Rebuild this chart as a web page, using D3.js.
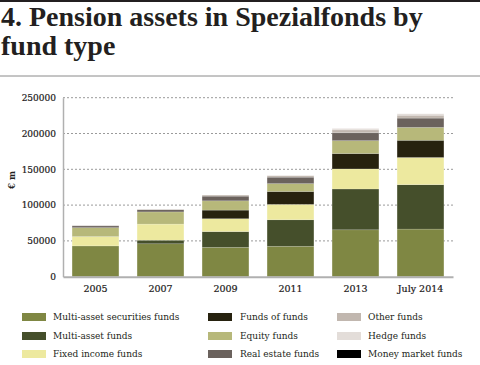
<!DOCTYPE html>
<html>
<head>
<meta charset="utf-8">
<script src="https://cdn.jsdelivr.net/npm/d3@7"></script>
<style>
  body { margin: 0; background: #fff; }
  svg { display: block; }
</style>
</head>
<body>
<div id="scene"></div>
<script>
// chart data (EUR m)
var years = ["2005", "2007", "2009", "2011", "2013", "July 2014"];
var fundTypes = ["Multi-asset securities funds", "Multi-asset funds", "Fixed income funds",
  "Funds of funds", "Equity funds", "Real estate funds",
  "Other funds", "Hedge funds", "Money market funds"];
var multiAssetSecurities = [43000, 46000, 41000, 42500, 65500, 66500];
var multiAsset = [0, 5000, 22000, 37000, 57000, 62000];
var fixedIncome = [13000, 22500, 18000, 21500, 28000, 38000];
var fundsOfFunds = [0, 0, 12000, 18000, 21500, 24000];
var equity = [12500, 17000, 13000, 11000, 18000, 18000];
var realEstate = [2500, 3000, 6500, 9000, 11000, 13000];
var otherFunds = [500, 500, 1500, 2000, 4000, 4000];
var hedgeFunds = [0, 0, 0, 500, 2000, 2000];
var moneyMarket = [0, 0, 0, 0, 0, 0];
var yTicks = [0, 50000, 100000, 150000, 200000, 250000];

var colors = ["#7f8743", "#454f2b", "#ede99f", "#27220f", "#b7b87a",
  "#6b625d", "#c1b7af", "#e3ddd9", "#000000"];

var series = [multiAssetSecurities, multiAsset, fixedIncome, fundsOfFunds,
  equity, realEstate, otherFunds, hedgeFunds, moneyMarket];

var ctx = {
  w: 480,
  h: 365,
  left: 63,
  right: 453,
  top: 97.7,
  bottom: 276.7
};

var rows = years.map(function (y, i) {
  var r = { year: y };
  fundTypes.forEach(function (f, k) { r[f] = series[k][i]; });
  return r;
});

var svg = d3.select("#scene").append("svg")
  .attr("width", ctx.w)
  .attr("height", ctx.h);

// title and rules
svg.append("line")
  .attr("x1", 0).attr("x2", ctx.w).attr("y1", 1).attr("y2", 1)
  .attr("stroke", "#231f20").attr("stroke-width", 2);

var title = svg.append("text")
  .attr("font-family", "Liberation Serif")
  .attr("font-weight", "bold")
  .attr("font-size", 28)
  .attr("fill", "#231f20");
title.append("tspan").attr("x", 1).attr("y", 26).text("4. Pension assets in Spezialfonds by");
title.append("tspan").attr("x", 1).attr("y", 55).text("fund type");

svg.append("line")
  .attr("x1", 0).attr("x2", ctx.w).attr("y1", 76).attr("y2", 76)
  .attr("stroke", "#8a8a8a").attr("stroke-width", 1);

// scales
var x = d3.scaleBand()
  .domain(years)
  .range([ctx.left, ctx.right])
  .paddingInner(0.28)
  .paddingOuter(0.14);

var y = d3.scaleLinear()
  .domain([0, 250000])
  .range([ctx.bottom, ctx.top]);

// gridlines
svg.append("g")
  .selectAll("line")
  .data(yTicks.slice(1))
  .enter()
  .append("line")
  .attr("x1", ctx.left)
  .attr("x2", ctx.right)
  .attr("y1", function (d) { return y(d); })
  .attr("y2", function (d) { return y(d); })
  .attr("stroke", "#9a9a9a")
  .attr("stroke-width", 1)
  .attr("stroke-dasharray", "2,2");

// stacked bars
var stack = d3.stack().keys(fundTypes);
var layers = stack(rows);

svg.append("g")
  .selectAll("g")
  .data(layers)
  .enter()
  .append("g")
  .attr("fill", function (d, i) { return colors[i]; })
  .selectAll("rect")
  .data(function (d) { return d; })
  .enter()
  .append("rect")
  .attr("x", function (d) { return x(d.data.year); })
  .attr("width", x.bandwidth())
  .attr("y", function (d) { return y(d[1]); })
  .attr("height", function (d) { return y(d[0]) - y(d[1]); })
  .attr("stroke", "#ffffff")
  .attr("stroke-opacity", 0.25)
  .attr("stroke-width", function (d) { return d[1] > d[0] ? 0.6 : 0; });

// axes
var yAxis = svg.append("g")
  .attr("transform", "translate(" + ctx.left + ",0)")
  .call(d3.axisLeft(y).tickValues(yTicks).tickFormat(d3.format("d")).tickSize(0).tickPadding(7));
yAxis.select(".domain").attr("stroke", "#b0b0b0").attr("stroke-width", 1.5);
yAxis.selectAll("text")
  .attr("font-family", "DejaVu Serif")
  .attr("font-size", 9)
  .attr("fill", "#1a1718")
  .attr("stroke", "#1a1718")
  .attr("stroke-width", 0.2);

var xAxis = svg.append("g")
  .attr("transform", "translate(0," + ctx.bottom + ")")
  .call(d3.axisBottom(x).tickSize(0).tickPadding(9));
xAxis.select(".domain").attr("stroke", "#b0b0b0").attr("stroke-width", 2);
xAxis.selectAll("text")
  .attr("font-family", "DejaVu Serif")
  .attr("font-size", 9.5)
  .attr("fill", "#1a1718")
  .attr("stroke", "#1a1718")
  .attr("stroke-width", 0.2);

svg.append("text")
  .attr("transform", "translate(15,180) rotate(-90)")
  .attr("text-anchor", "middle")
  .attr("font-family", "DejaVu Serif")
  .attr("font-weight", "bold")
  .attr("font-size", 8.5)
  .attr("fill", "#231f20")
  .text("€ m");

// legend, three columns of three
var colX = [22, 208, 337];
var rowY = [317, 336, 354];
var legend = svg.append("g")
  .selectAll("g")
  .data(fundTypes)
  .enter()
  .append("g")
  .attr("transform", function (d, i) {
    return "translate(" + colX[Math.floor(i / 3)] + "," + rowY[i % 3] + ")";
  });

legend.append("rect")
  .attr("x", 0).attr("y", -4)
  .attr("width", 24).attr("height", 8)
  .attr("fill", function (d, i) { return colors[i]; });

legend.append("text")
  .attr("x", function (d, i) { return Math.floor(i / 3) === 1 ? 32 : 31; })
  .attr("y", 3)
  .attr("font-family", "DejaVu Serif")
  .attr("font-size", 9)
  .attr("fill", "#231f20")
  .text(function (d) { return d; });
</script>
</body>
</html>
